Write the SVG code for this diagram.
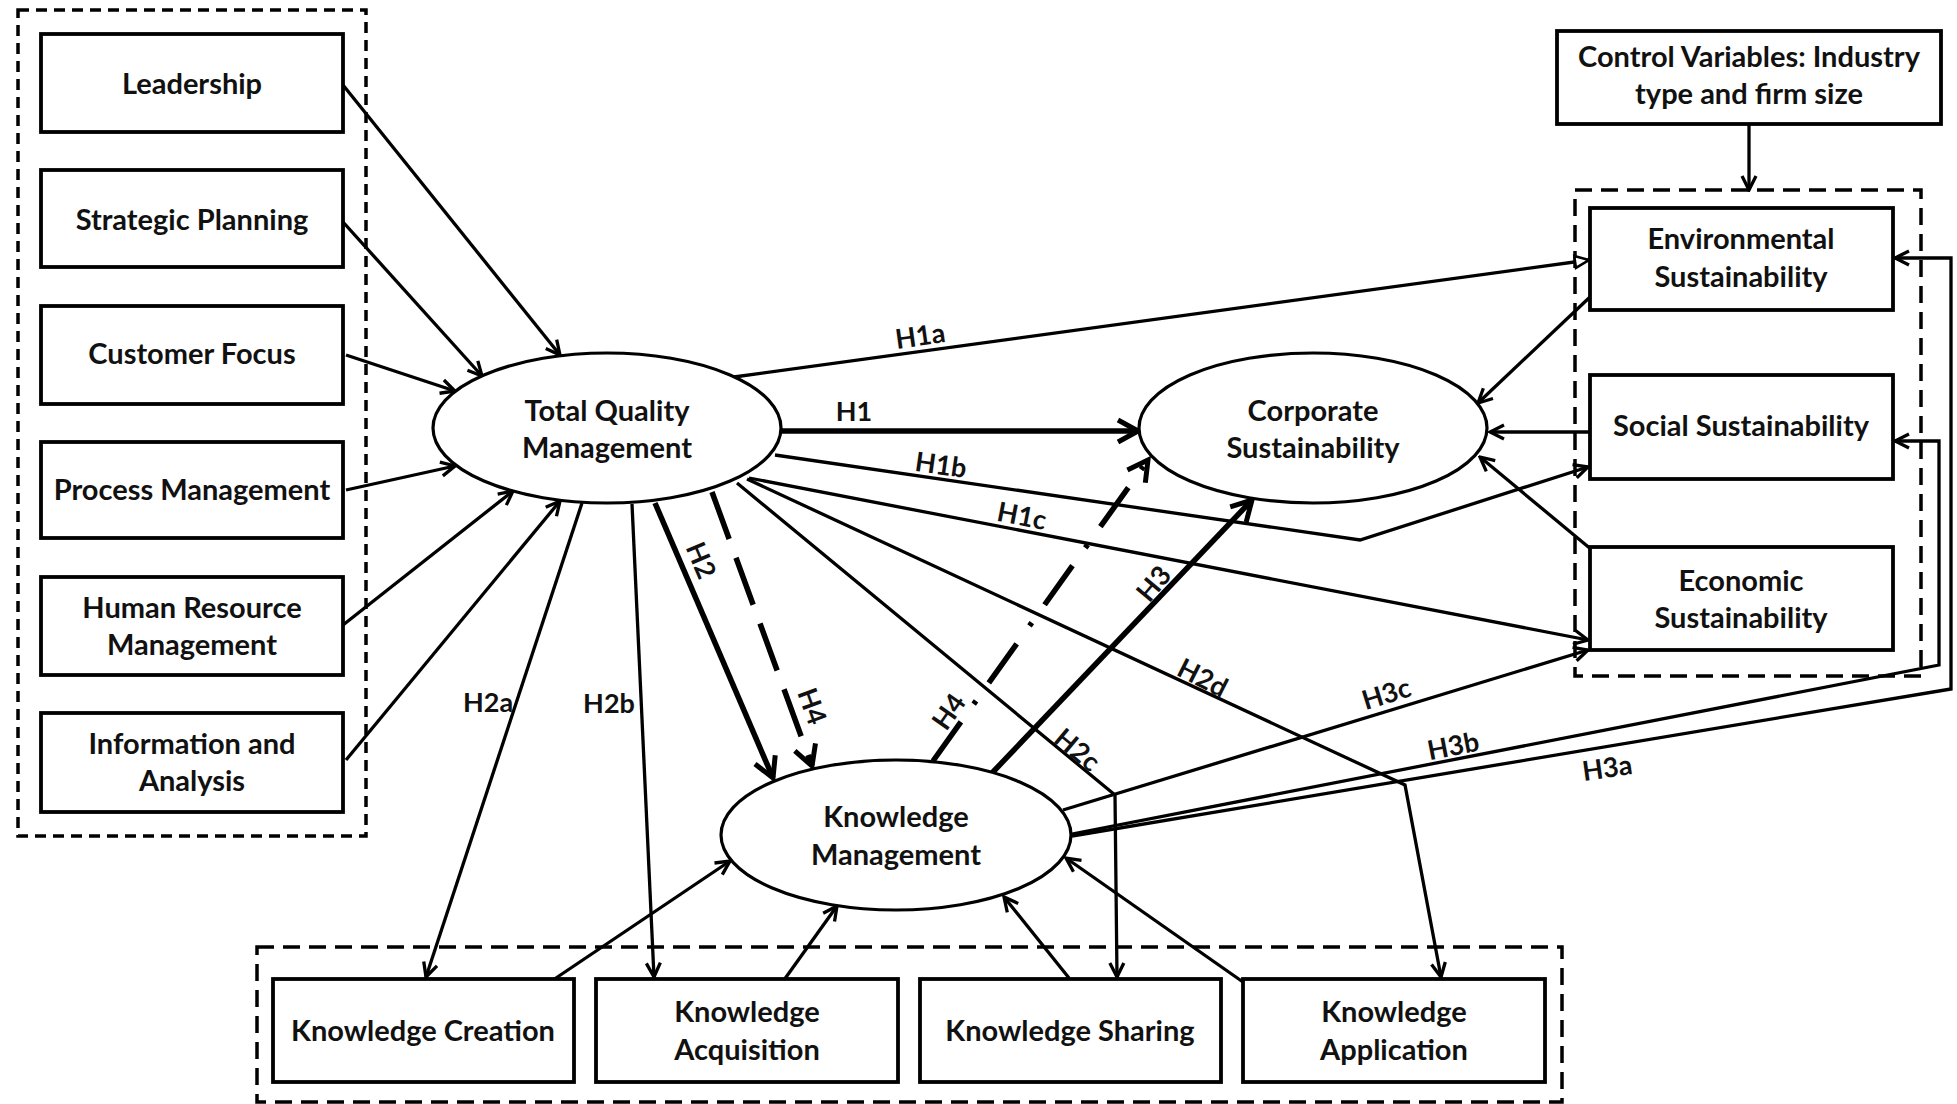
<svg xmlns="http://www.w3.org/2000/svg" width="1957" height="1104" viewBox="0 0 1957 1104">
<style>
.box{fill:#fff;stroke:#000;stroke-width:3.8}
.ell{fill:#fff;stroke:#000;stroke-width:3.2}
.grp{fill:none;stroke:#000;stroke-width:3.5}
.t{font-family:Lato,"Liberation Sans",sans-serif;font-weight:bold;font-size:29px;text-anchor:middle;fill:#111}
.lb{font-family:Lato,"Liberation Sans",sans-serif;font-weight:bold;font-size:27px;text-anchor:middle;dominant-baseline:central;fill:#111}
.c{fill:none;stroke:#000;stroke-width:3.3;marker-end:url(#a)}
.k{fill:none;stroke:#000;stroke-width:5.5;marker-end:url(#at)}
</style>
<defs>
<marker id="a" markerUnits="userSpaceOnUse" viewBox="0 0 20 20" markerWidth="20" markerHeight="20" refX="18" refY="10" orient="auto"><path d="M4,3 L18,10 L4,17" fill="none" stroke="#000" stroke-width="3.3"/></marker>
<marker id="at" markerUnits="userSpaceOnUse" viewBox="0 0 28 28" markerWidth="28" markerHeight="28" refX="24" refY="14" orient="auto"><path d="M4,3 L24,14 L4,25" fill="none" stroke="#000" stroke-width="5"/></marker>
<marker id="tri" markerUnits="userSpaceOnUse" viewBox="0 0 20 20" markerWidth="20" markerHeight="20" refX="18" refY="10" orient="auto"><path d="M4,4 L18,10 L4,16 Z" fill="#fff" stroke="#000" stroke-width="2.5"/></marker>
</defs>
<rect width="1957" height="1104" fill="#fff"/>

<g id="groups">
<rect class="grp" x="18" y="10" width="348" height="826" stroke-dasharray="11 7"/>
<rect class="grp" x="1575" y="190" width="346" height="486" stroke-dasharray="17 9"/>
<rect class="grp" x="257" y="947" width="1305" height="155" stroke-dasharray="17 9"/>
</g>

<g id="connectors">
<path class="c" d="M343,85 L560,355"/>
<path class="c" d="M343,222 L482,376"/>
<path class="c" d="M346,355 L455,391"/>
<path class="c" d="M346,490 L455,466"/>
<path class="c" d="M343,625 L513,491"/>
<path class="c" d="M346,760 L560,501"/>
<path class="c" d="M582,503 L426,977"/>
<path class="c" d="M632,504 L654,977"/>
<path class="k" d="M655,503 L773,778"/>
<path class="k" d="M712,492 L812,766" stroke-dasharray="50 20"/>
<path class="c" d="M737,483 L1115,795 L1117,977"/>
<path class="c" d="M747,479 L1405,785 L1441,977"/>
<path class="c" d="M749,478 L1588,640"/>
<path class="c" d="M775,455 L1360,540 L1588,467"/>
<path class="c" d="M734,377 L1589,260" style="marker-end:url(#tri)"/>
<path class="k" d="M781,431 L1138,431"/>
<path class="c" d="M1590,297 L1478,403"/>
<path class="c" d="M1590,432 L1490,432"/>
<path class="c" d="M1592,550 L1480,457"/>
<path class="c" d="M1749,124 L1749,190"/>
<path class="k" d="M992,773 L1252,500"/>
<path class="k" d="M933,761 L1148,460" stroke-dasharray="48 22 4 22"/>
<path class="c" d="M1063,810 L1588,650"/>
<path class="c" d="M1072,834 L1939,665 L1939,441 L1895,441"/>
<path class="c" d="M1072,836 L1951,689 L1951,258 L1895,258"/>
<path class="c" d="M553,980 L730,861"/>
<path class="c" d="M784,980 L837,906"/>
<path class="c" d="M1069,978 L1004,897"/>
<path class="c" d="M1243,982 L1066,858"/>
</g>

<g id="labels">
<text class="lb" transform="translate(854,410)">H1</text>
<text class="lb" transform="translate(920,335) rotate(-8)">H1a</text>
<text class="lb" transform="translate(941,464) rotate(8)">H1b</text>
<text class="lb" transform="translate(1022,515) rotate(11)">H1c</text>
<text class="lb" transform="translate(702,560) rotate(67)">H2</text>
<text class="lb" transform="translate(813,706) rotate(70)">H4</text>
<text class="lb" transform="translate(948,711) rotate(-55)">H4</text>
<text class="lb" transform="translate(1153,583) rotate(-50)">H3</text>
<text class="lb" transform="translate(488,701)">H2a</text>
<text class="lb" transform="translate(609,702)">H2b</text>
<text class="lb" transform="translate(1078,749) rotate(40)">H2c</text>
<text class="lb" transform="translate(1203,677) rotate(27)">H2d</text>
<text class="lb" transform="translate(1386,693) rotate(-17)">H3c</text>
<text class="lb" transform="translate(1453,745) rotate(-11)">H3b</text>
<text class="lb" transform="translate(1607,767) rotate(-8)">H3a</text>
</g>

<g id="leadership"><rect class="box" x="41" y="34" width="302" height="98"/><text class="t" x="192" y="94">Leadership</text></g>
<g id="strategic-planning"><rect class="box" x="41" y="170" width="302" height="97"/><text class="t" x="192" y="230">Strategic Planning</text></g>
<g id="customer-focus"><rect class="box" x="41" y="306" width="302" height="98"/><text class="t" x="192" y="364">Customer Focus</text></g>
<g id="process-management"><rect class="box" x="41" y="442" width="302" height="96"/><text class="t" x="192" y="500">Process Management</text></g>
<g id="hrm"><rect class="box" x="41" y="577" width="302" height="98"/><text class="t" x="192" y="618">Human Resource</text><text class="t" x="192" y="655">Management</text></g>
<g id="info-analysis"><rect class="box" x="41" y="713" width="302" height="99"/><text class="t" x="192" y="754">Information and</text><text class="t" x="192" y="791">Analysis</text></g>

<g id="tqm"><ellipse class="ell" cx="607" cy="428" rx="174" ry="75"/><text class="t" x="607" y="421">Total Quality</text><text class="t" x="607" y="458">Management</text></g>
<g id="corporate-sustainability"><ellipse class="ell" cx="1313" cy="428" rx="174" ry="75"/><text class="t" x="1313" y="421">Corporate</text><text class="t" x="1313" y="458">Sustainability</text></g>
<g id="knowledge-management"><ellipse class="ell" cx="896" cy="835" rx="175" ry="75"/><text class="t" x="896" y="827">Knowledge</text><text class="t" x="896" y="865">Management</text></g>

<g id="control-variables"><rect class="box" x="1557" y="31" width="384" height="93"/><text class="t" x="1749" y="67">Control Variables: Industry</text><text class="t" x="1749" y="104">type and firm size</text></g>
<g id="environmental"><rect class="box" x="1590" y="208" width="303" height="102"/><text class="t" x="1741" y="249">Environmental</text><text class="t" x="1741" y="287">Sustainability</text></g>
<g id="social"><rect class="box" x="1590" y="375" width="303" height="104"/><text class="t" x="1741" y="436">Social Sustainability</text></g>
<g id="economic"><rect class="box" x="1590" y="547" width="303" height="103"/><text class="t" x="1741" y="591">Economic</text><text class="t" x="1741" y="628">Sustainability</text></g>

<g id="knowledge-creation"><rect class="box" x="273" y="979" width="301" height="103"/><text class="t" x="423" y="1041">Knowledge Creation</text></g>
<g id="knowledge-acquisition"><rect class="box" x="596" y="979" width="302" height="103"/><text class="t" x="747" y="1022">Knowledge</text><text class="t" x="747" y="1060">Acquisition</text></g>
<g id="knowledge-sharing"><rect class="box" x="920" y="979" width="301" height="103"/><text class="t" x="1070" y="1041">Knowledge Sharing</text></g>
<g id="knowledge-application"><rect class="box" x="1243" y="979" width="302" height="103"/><text class="t" x="1394" y="1022">Knowledge</text><text class="t" x="1394" y="1060">Application</text></g>
</svg>
